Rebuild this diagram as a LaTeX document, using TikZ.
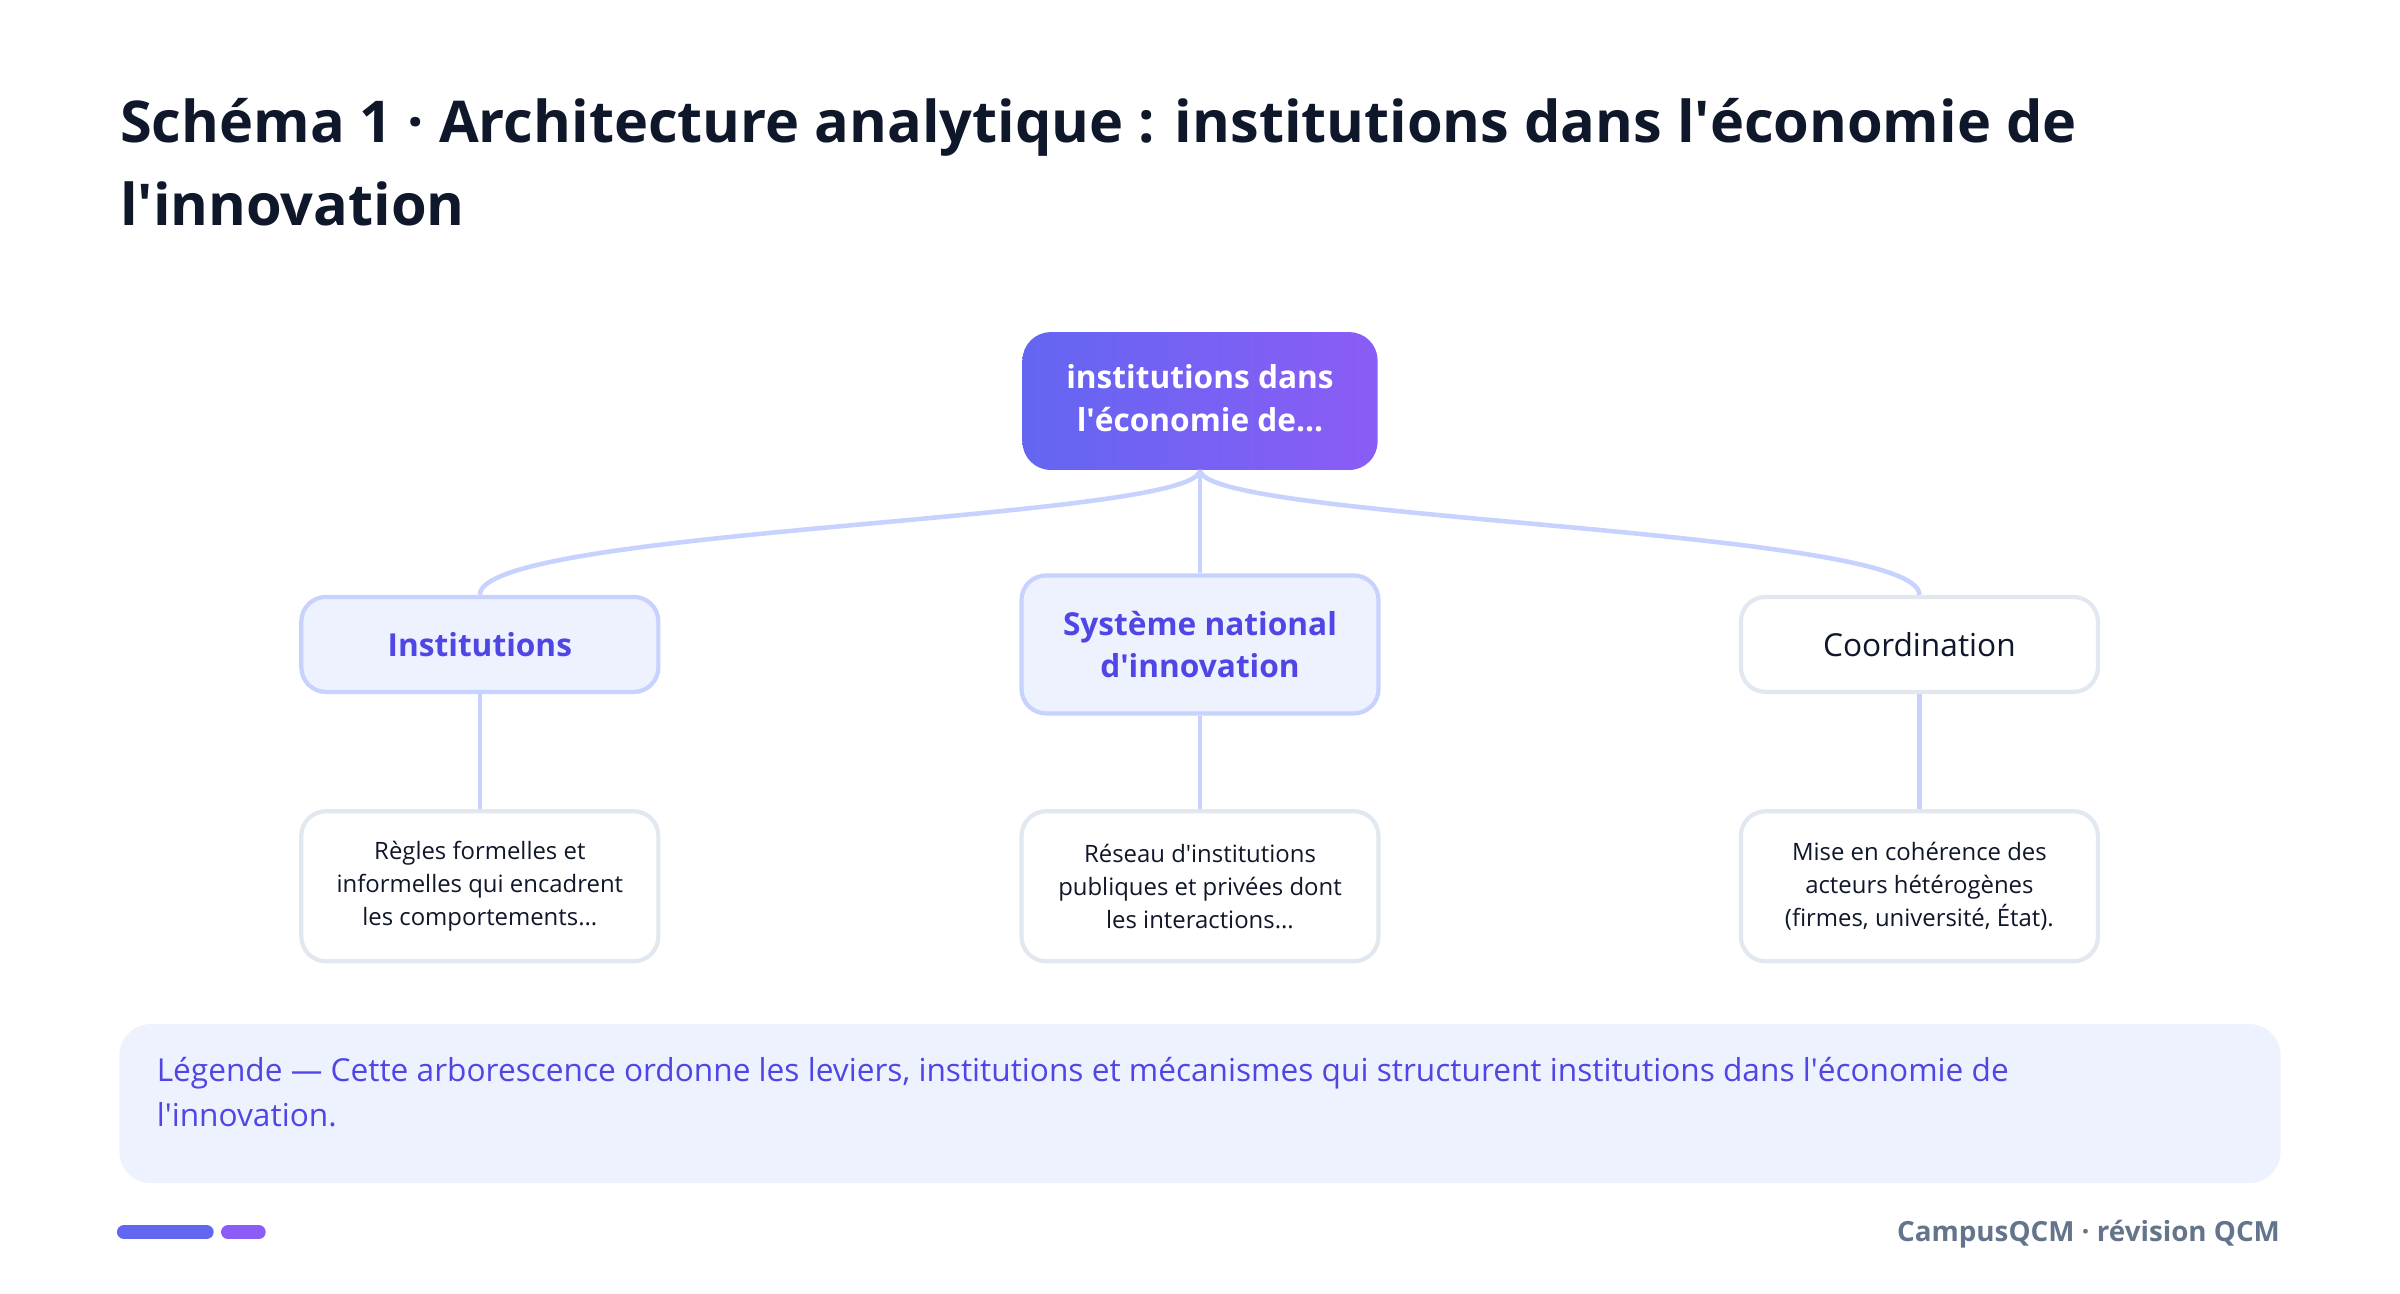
\documentclass[tikz,border=0pt]{standalone}
\usepackage{fontspec}
\setmainfont{Open Sans}[Ligatures=ResetAll]
\usetikzlibrary{positioning}
\newcommand\ap{\textquotesingle}
\definecolor{indigo}{HTML}{4F46E5}
\definecolor{rootA}{HTML}{6366F1}
\definecolor{rootB}{HTML}{8B5CF6}
\definecolor{paleblue}{HTML}{EEF2FF}
\definecolor{edgeblue}{HTML}{C7D2FE}
\definecolor{softgray}{HTML}{E2E8F0}
\definecolor{ink}{HTML}{0F172A}
\definecolor{slate}{HTML}{64748B}
\tikzset{
  box/.style={rounded corners=7pt, line width=1.2pt, align=center, inner sep=0pt},
  branch/.style={box, draw=edgeblue, fill=paleblue, text=indigo, font=\fontsize{9}{12}\selectfont\bfseries},
  leaf/.style={box, draw=softgray, fill=white, text=ink, font=\fontsize{6.8}{9.4}\selectfont},
  link/.style={draw=edgeblue, line width=1.3pt}
}
\begin{document}
\begin{tikzpicture}[x=0.01531cm, y=-0.01531cm]
\useasboundingbox (0,0) rectangle (1568,845);
\node[anchor=north west, text=ink, font=\fontsize{16.4}{23.5}\selectfont\bfseries, align=left, inner sep=0pt]
  (title) at (78,64) {Schéma 1 · Architecture analytique : institutions dans l\ap économie de\\ l\ap innovation};

% root
\shade[left color=rootA, right color=rootB, rounded corners=8pt] (668,217) rectangle (900,307);
\node[text=white, font=\fontsize{9}{12.2}\selectfont\bfseries, align=center] (root) at (784,260)
  {institutions dans\\ l\ap économie de...};
\coordinate (rootS) at (784,307);

% branches
\node[branch, minimum width=3.57cm, minimum height=0.95cm] (inst) at (313.5,421) {Institutions};
\node[branch, minimum width=3.57cm, minimum height=1.38cm] (sni) at (784,421) {Système national\\ d\ap innovation};
\node[box, draw=softgray, fill=white, text=ink, font=\fontsize{9}{12}\selectfont, minimum width=3.57cm, minimum height=0.95cm] (coord) at (1254,421) {Coordination};

% leaves
\node[leaf, minimum width=3.57cm, minimum height=1.5cm] (instL) at (313.5,579) {Règles formelles et\\ informelles qui encadrent\\ les comportements...};
\node[leaf, minimum width=3.57cm, minimum height=1.5cm] (sniL) at (784,579) {Réseau d\ap institutions\\ publiques et privées dont\\ les interactions...};
\node[leaf, minimum width=3.57cm, minimum height=1.5cm] (coordL) at (1254,579) {Mise en cohérence des\\ acteurs hétérogènes\\ (firmes, université, État).};

% connectors
\draw[link] (rootS) .. controls (784,340) and (313.5,345) .. (inst.north);
\draw[link] (rootS) .. controls (784,340) and (1254,345) .. (coord.north);
\draw[link] (rootS) -- (sni.north);
\draw[link] (inst.south) -- (instL.north);
\draw[link] (sni.south) -- (sniL.north);
\draw[link] (coord.south) -- (coordL.north);

% legend
\fill[paleblue, rounded corners=9pt] (78,669) rectangle (1490,773);
\node[anchor=north west, text=indigo, font=\fontsize{9}{13}\selectfont, align=left, inner sep=0pt] (legend) at (102,690)
  {Légende — Cette arborescence ordonne les leviers, institutions et mécanismes qui structurent institutions dans l\ap économie de\\ l\ap innovation.};

% footer
\draw[rootA, line width=4pt, line cap=round] (81,805) -- (135,805);
\draw[rootB, line width=4pt, line cap=round] (149,805) -- (169,805);
\node[anchor=east, text=slate, font=\fontsize{7.9}{10}\selectfont\bfseries, inner sep=0pt] (footer) at (1490,806) {CampusQCM · révision QCM};
\end{tikzpicture}
\end{document}
